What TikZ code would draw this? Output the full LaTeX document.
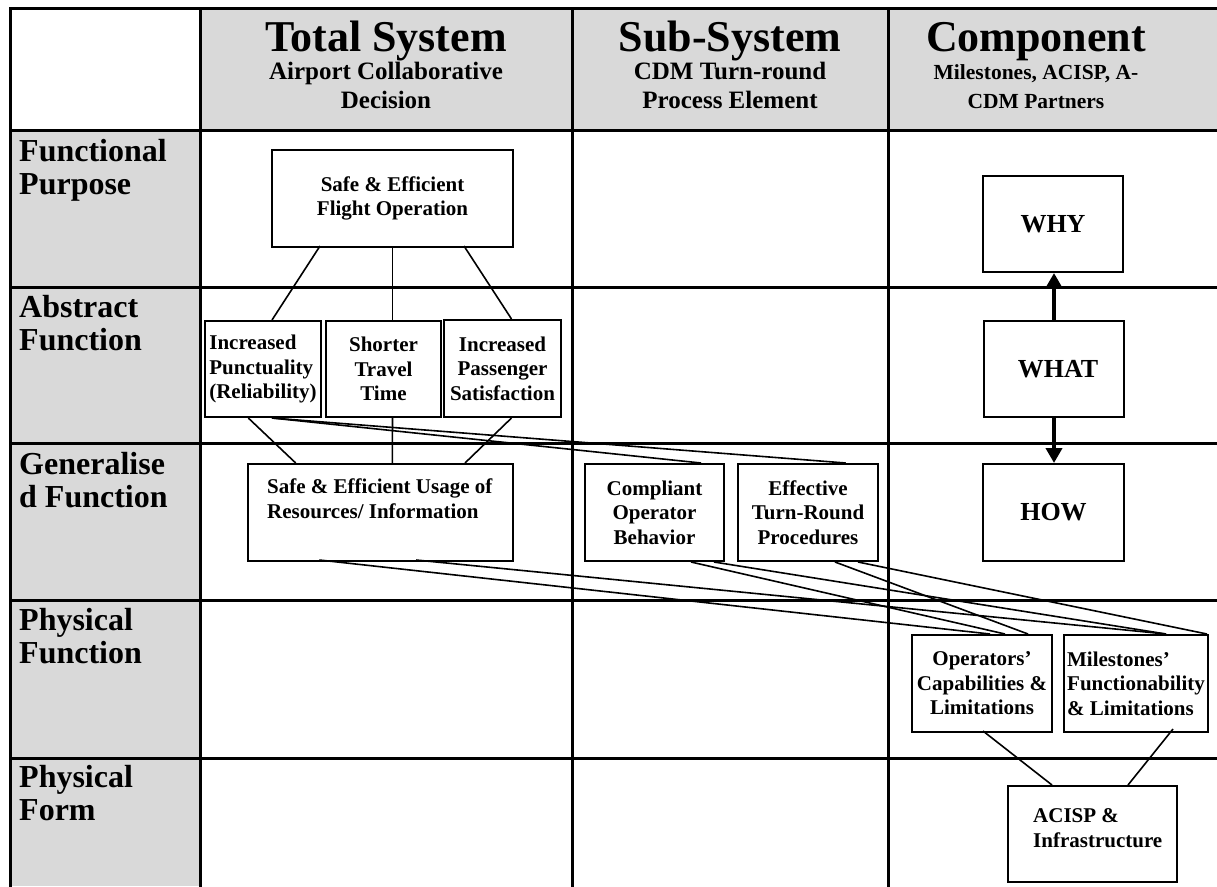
\documentclass[tikz,border=0pt]{standalone}
\usepackage{fontspec}
\setmainfont{Liberation Serif}
\usetikzlibrary{arrows.meta}
\definecolor{cellgray}{RGB}{217,217,217}
\begin{document}
\begin{tikzpicture}[x=1pt,y=-1pt,
  rule/.style={line width=3pt,line cap=rect},
  title/.style={font=\bfseries\fontsize{44}{48}\selectfont,inner sep=0pt},
  subtitle/.style={font=\bfseries\fontsize{25}{29}\selectfont,align=center,inner sep=0pt},
  smallsub/.style={font=\bfseries\fontsize{21.5}{29}\selectfont,align=center,inner sep=0pt},
  level/.style={font=\bfseries\fontsize{32}{33}\selectfont,align=left,inner sep=0pt},
  box/.style={draw,line width=2pt,fill=white,inner sep=0pt,align=center,
    font=\bfseries\fontsize{21}{24.5}\selectfont},
  boxtext/.style={inner sep=0pt,font=\bfseries\fontsize{21}{24.5}\selectfont},
  bigbox/.style={box,font=\bfseries\fontsize{26}{30}\selectfont},
  link/.style={line width=1.6pt},
  flow/.style={line width=4pt,-{Triangle[length=15pt,width=16pt]}}]
\useasboundingbox (0,0) rectangle (1217,886);

% shaded heading row and level column
\fill[cellgray] (200,8) rectangle (1217,130);
\fill[cellgray] (10,130) rectangle (200,886);

% table rules
\foreach \y in {8,130,287,443,600,758}
  \draw[rule] (10,\y) -- (1217,\y);
\foreach \x in {10,200,572,888}
  \draw[rule] (\x,8) -- (\x,886);

% column headings (multi-line nodes sit on the baseline of their last line)
\node[title,anchor=base] (hTotal) at (386,51) {Total System};
\node[subtitle,anchor=base] (hTotalSub) at (386,108) {Airport Collaborative\\Decision};
\node[title,anchor=base] (hSub) at (730,51) {Sub-System};
\node[subtitle,anchor=base] (hSubSub) at (730,108) {CDM Turn-round\\Process Element};
\node[title,anchor=base] (hComp) at (1036,51) {Component};
\node[smallsub,anchor=base] (hCompSub) at (1036,108) {Milestones, ACISP, A-\\CDM Partners};

% abstraction levels
\node[level,anchor=base west] (lFP) at (19,194) {Functional\\Purpose};
\node[level,anchor=base west] (lAF) at (19,350) {Abstract\\Function};
\node[level,anchor=base west] (lGF) at (19,507) {Generalise\\d Function};
\node[level,anchor=base west] (lPF) at (19,663) {Physical\\Function};
\node[level,anchor=base west] (lPFo) at (19,820) {Physical\\Form};

% boxes
\node[box,minimum width=241,minimum height=97] (flight) at (392.5,198.5)
  {Safe \& Efficient\\Flight Operation};
\node[box,minimum width=116,minimum height=96,align=left] (punct) at (263,369)
  {Increased\\Punctuality\\(Reliability)};
\node[box,minimum width=115,minimum height=96] (shorter) at (383.5,369)
  {Shorter\\Travel\\Time};
\node[box,minimum width=117,minimum height=97] (passenger) at (502.5,368.5)
  {Increased\\Passenger\\Satisfaction};
\node[box,minimum width=265,minimum height=97] (usage) at (380.5,512.5) {};
\node[boxtext,align=left,anchor=base west] (usageText) at (267,518)
  {Safe \& Efficient Usage of\\Resources/ Information};
\node[box,minimum width=139,minimum height=97] (compliant) at (654.5,512.5)
  {Compliant\\Operator\\Behavior};
\node[box,minimum width=140,minimum height=97] (effective) at (808,512.5)
  {Effective\\Turn-Round\\Procedures};
\node[bigbox,minimum width=140,minimum height=96] (why) at (1053,224) {WHY};
\node[bigbox,minimum width=140,minimum height=96] (what) at (1054,369) {\hspace{8pt}WHAT};
\node[bigbox,minimum width=141,minimum height=97] (how) at (1053.5,512.5) {HOW};
\node[box,minimum width=140,minimum height=97] (operators) at (982,683.5)
  {Operators'\\Capabilities \&\\Limitations};
\node[box,minimum width=144,minimum height=97,align=left] (milestones) at (1136,683.5)
  {Milestones'\\Functionability\\\& Limitations};
\node[box,minimum width=169,minimum height=96] (acisp) at (1092.5,834) {};
\node[boxtext,align=left,anchor=base west] (acispText) at (1033,847)
  {ACISP \&\\Infrastructure};

% means-ends links
\draw[link] ([xshift=-72.5pt,yshift=2pt]flight.south) -- ([xshift=9pt]punct.north);
\draw[link] (flight.south) -- (flight.south |- shorter.north);
\draw[link] ([xshift=71.5pt,yshift=2pt]flight.south) -- ([xshift=9pt]passenger.north);
\draw[link] ([xshift=-14.7pt]punct.south) -- ([xshift=-84.8pt]usage.north);
\draw[link] ([xshift=9pt]shorter.south) -- ([xshift=11.8pt]usage.north);
\draw[link] ([xshift=9pt]passenger.south) -- ([xshift=84.5pt]usage.north);
\draw[link] ([xshift=9pt]punct.south) -- ([xshift=46.5pt]compliant.north);
\draw[link] ([xshift=9pt]punct.south) -- ([xshift=37.7pt]effective.north);
\draw[link] ([xshift=-61.2pt,yshift=2pt]usage.south) -- ([xshift=8pt]operators.north);
\draw[link] ([xshift=35.5pt,yshift=2pt]usage.south) -- ([xshift=30pt]milestones.north);
\draw[link] ([xshift=36.5pt]compliant.south) -- ([xshift=23pt]operators.north);
\draw[link] ([xshift=59.5pt]compliant.south) -- ([xshift=30pt]milestones.north);
\draw[link] ([xshift=27pt]effective.south) -- ([xshift=46pt]operators.north);
\draw[link] ([xshift=50pt]effective.south) -- ([xshift=71pt]milestones.north);
\draw[link] ([xshift=1pt,yshift=2pt]operators.south) -- ([xshift=-40.5pt]acisp.north);
\draw[link] ([xshift=37pt,yshift=4pt]milestones.south) -- ([xshift=35.5pt]acisp.north);

% why / what / how
\draw[flow] (what.north) -- (what.north |- why.south);
\draw[flow] (what.south) -- (what.south |- how.north);
\end{tikzpicture}
\end{document}
